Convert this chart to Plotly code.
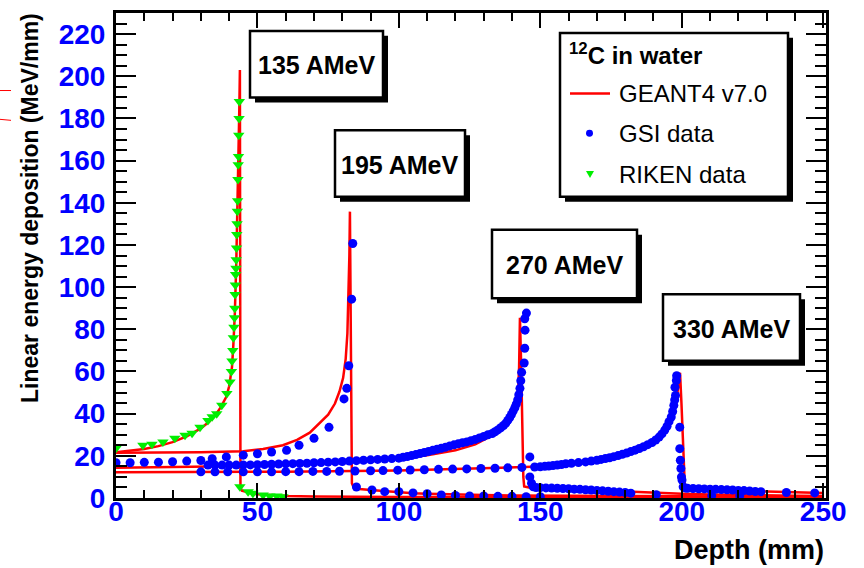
import plotly.graph_objects as go

# ---------------- data ----------------
# GEANT4 v7.0 simulated curves
g4_135_depth = [0, 5, 10, 15, 20, 25, 30, 33, 35, 37, 39, 40, 41, 41.5, 42, 42.5, 43, 43.3, 43.6, 43.8, 43.9, 44.0,
                44.5, 46, 48, 50, 55, 60, 70, 80, 100, 150, 200, 250]
g4_135_val = [21.7, 22.3, 23.2, 24.6, 26.5, 29.2, 33, 36.3, 39, 43, 48, 53, 62, 73, 87, 110, 138, 160, 185, 203, 120, 5,
              3.5, 2.8, 2.2, 1.8, 1.3, 1.0, 0.7, 0.6, 0.5, 0.4, 0.3, 0.3]

g4_195_depth = [0, 15, 30, 45, 52, 59, 64, 68.5, 72, 75, 77.4, 79, 80.3, 81.2, 81.8, 82.2, 82.5, 82.7, 83.0, 83.2, 83.4,
                84, 86, 90, 95, 100, 105, 110, 120, 130, 140, 150, 175, 200, 250]
g4_195_val = [21.4, 21.5, 21.7, 22.2, 23.2, 25, 27.6, 31, 35.5, 39.5, 44.8, 50.5, 57, 66, 78, 95, 115, 135.8, 80, 30, 7,
              5, 4.3, 3.8, 3.2, 2.7, 2.3, 2.0, 1.6, 1.4, 1.2, 1.1, 0.9, 0.8, 0.6]

g4_270_depth = [0, 20, 40, 60, 80, 100, 110, 120, 127, 132, 136, 138.5, 140, 141, 141.7, 142.2, 142.5, 142.7, 142.8,
                143.2, 143.6, 144.0, 144.3, 146, 150, 160, 170, 180, 190, 200, 210, 220, 230, 240, 250]
g4_270_val = [14.3, 14.6, 15.0, 15.8, 16.9, 18.6, 20.3, 22.6, 25.5, 29, 33, 36.5, 40, 43, 46, 52, 62, 75, 85.5,
              65, 35, 10, 5.5, 5.0, 4.7, 4.1, 3.5, 2.9, 2.4, 2.0, 1.7, 1.4, 1.2, 1.1, 1.0]

g4_330_depth = [0, 30, 60, 100, 130, 150, 161, 170, 179, 185, 189, 192, 194, 195.5, 196.8, 197.8, 198.5, 199, 199.4,
                199.9, 200.4, 200.8, 201.1, 202, 210, 220, 230, 240, 250]
g4_330_val = [12.2, 12.3, 12.5, 13.1, 14.0, 14.9, 16.3, 17.8, 20.8, 23.5, 26.2, 29, 32, 35.5, 40, 45, 50, 55, 59.4,
              45, 25, 10, 5.3, 4.8, 4.2, 3.6, 3.1, 2.7, 2.4]

# GSI data
gsi_195_depth = [0, 5, 10, 15, 20, 25, 30, 34, 39, 45, 50, 55, 60.3, 64.7, 70, 75.3, 80.6, 81.6, 82.3, 83.3, 83.7,
                 85, 90.5, 95, 100, 105, 110, 115, 120, 125, 130, 135, 140, 145, 150]
gsi_195_val = [16.7, 16.7, 16.9, 17.0, 17.2, 17.5, 17.8, 18.6, 19.5, 20.3, 21.0, 21.8, 22.6, 25, 28.3, 33.5, 47, 52,
               62.7, 94.3, 120.7, 5.2, 3.8, 3.0, 3.0, 2.4, 2.0, 1.4, 1.2, 1.0, 1.0, 0.8, 0.8, 0.6, 0.6]

gsi_270_depth = [32.5, 35, 37.5, 40, 42.5, 45, 47.5, 50, 52.5, 55, 57.5, 60, 62.5, 65, 67.5, 70, 72.5, 75, 77.5, 80,
                 82.5, 85, 87.5, 90, 92.5, 95, 97.5, 100, 101.5, 103, 104.5, 106, 107.5, 109, 110.5, 112, 113.5, 115,
                 116.5, 118, 119.5, 121, 122.5, 124, 125.5, 127, 128.5, 130, 131.5, 133, 134, 135, 136, 137, 137.8,
                 138.5, 139.2, 139.8, 140.4, 141, 141.5, 142, 142.4, 142.8, 143.1, 143.4, 144.3, 144.5, 144.6, 144.5,
                 145.1, 146.3, 146.3, 146.9, 147.5, 148.5, 150, 152, 154, 156, 158, 160, 162, 164, 166, 168, 170,
                 172, 174, 176, 178, 180, 182, 191, 210.6, 220.5]
gsi_270_val = [15.6, 15.6, 15.6, 15.6, 15.6, 15.7, 15.7, 15.8, 15.9, 16.0, 16.1, 16.2, 16.3, 16.4, 16.5, 16.7, 16.8,
               17.0, 17.1, 17.3, 17.5, 17.7, 17.9, 18.1, 18.3, 18.5, 18.7, 18.9, 19.3, 19.7, 20.1, 20.6, 21.1, 21.6,
               22.1, 22.6, 23.1, 23.6, 24.1, 24.7, 25.2, 25.7, 26.2, 26.6, 27.2, 27.8, 28.5, 29.2, 30.0, 30.6, 31.4,
               32.3, 33.3, 34.4, 35.5, 36.8, 38.2, 39.6, 41.2, 42.8, 44.5, 46.5, 49, 52, 55.6, 59.6, 64, 71, 79.6,
               85, 87.7, 19.5, 10, 7, 5.3, 5.0, 4.9, 4.8, 4.7, 4.6, 4.5, 4.4, 4.2, 4.1, 3.9, 3.8, 3.6, 3.4, 3.2,
               3.0, 2.8, 2.6, 2.3, 1.6, 1.1, 1.1]

gsi_330_depth = [30, 35, 39.5, 45, 50, 55, 60, 64.7, 69.6, 74.5, 79, 84.5, 90, 94.4, 99.6, 104, 109, 114, 119, 124,
                 129, 134, 138.5, 143.5, 148, 150, 151.6, 153, 154.5, 156, 157.5, 159, 161, 163.5, 166, 168, 170,
                 171.5, 173, 174.5, 176, 177.5, 179, 180.5, 182, 183.5, 185, 186.5, 188, 189.5, 190.8, 192, 193, 194,
                 194.8, 195.5, 196.3, 196.8, 197.2, 197.5, 197.8, 197.6, 198.1, 198.2, 199.3, 199.3, 199.5, 199.7,
                 199.9, 200.1, 200.5, 201.2, 202, 204, 206, 208, 210, 212, 214, 216, 218, 220, 222, 224, 226, 228,
                 237, 247]
gsi_330_val = [12.4, 12.4, 12.4, 12.4, 12.4, 12.4, 12.5, 12.5, 12.6, 12.6, 12.7, 12.8, 12.9, 13.0, 13.2, 13.3, 13.4,
               13.6, 13.7, 13.8, 14.0, 14.1, 14.3, 14.5, 14.7, 14.8, 15.0, 15.2, 15.4, 15.6, 15.9, 16.2, 16.5, 16.8,
               17.1, 17.5, 17.9, 18.3, 18.7, 19.1, 19.6, 20.1, 20.7, 21.3, 22.0, 22.7, 23.5, 24.3, 25.3, 26.3, 27.5,
               28.9, 30.4, 32.2, 34.0, 36.2, 38.4, 41, 43.9, 46.5, 48.6, 52.5, 55.7, 58, 33.6, 23.4, 17.9, 14, 10,
               8.5, 5.3, 4.8, 4.6, 4.5, 4.4, 4.3, 4.2, 4.1, 4.0, 3.9, 3.8, 3.6, 3.5, 3.3, 3.1, 3.0, 2.6, 2.4]

# RIKEN data
riken_135_depth = [0, 9.5, 12.7, 16.6, 20.8, 24.4, 26.9, 29.7, 32.5, 34, 35.6, 37.4, 39.2, 40.3, 40.8, 41.0, 41.3,
                   41.5, 41.7, 41.9, 42.0, 42.1, 42.2, 42.3, 42.4, 42.5, 42.6, 42.7, 42.8, 42.9, 43.0, 43.1, 43.2,
                   43.3, 43.4, 43.5, 43.6, 43.8, 46.7, 48.4, 52, 54.4, 56.9, 59]
riken_135_val = [23.6, 25, 25.5, 26.6, 28.3, 29.7, 30.7, 33.6, 36.8, 38.5, 40, 44, 49.5, 55, 60, 65, 70, 76, 81,
                 85.5, 90, 96.5, 101, 106, 109, 113, 118.5, 125, 130, 136, 141, 151, 158, 162, 172, 180, 188,
                 5.3, 3.0, 2.2, 1.4, 0.9, 0.9, 0.6]

energy_labels = ["135 AMeV", "195 AMeV", "270 AMeV", "330 AMeV"]
legend_title = "<sup>12</sup>C in water"
legend_names = ["GEANT4 v7.0", "GSI data", "RIKEN data"]

# ---------------- layout geometry ----------------
W, H = 864, 568
ML, MR, MT, MB = 116, 38, 10, 70
PW, PH = W - ML - MR, H - MT - MB
Y0 = H - MB


def px(x):
    return (x - ML) / PW


def py(y):
    return (Y0 - y) / PH


RED, BLUE, GREEN = "#ff0000", "#0000ff", "#00ee00"
FONT = "Liberation Sans, Arial, Helvetica, sans-serif"

fig = go.Figure()
for d, v, nm in [(g4_135_depth, g4_135_val, "GEANT4 135"), (g4_195_depth, g4_195_val, "GEANT4 195"),
                 (g4_270_depth, g4_270_val, "GEANT4 270"), (g4_330_depth, g4_330_val, "GEANT4 330")]:
    fig.add_trace(go.Scatter(x=d, y=v, mode="lines", name=nm, line=dict(color=RED, width=2.5), showlegend=False))
for d, v, nm in [(gsi_195_depth, gsi_195_val, "GSI 195"), (gsi_270_depth, gsi_270_val, "GSI 270"),
                 (gsi_330_depth, gsi_330_val, "GSI 330")]:
    fig.add_trace(go.Scatter(x=d, y=v, mode="markers", name=nm, showlegend=False,
                             marker=dict(color=BLUE, size=9, symbol="circle", line=dict(width=0))))
fig.add_trace(go.Scatter(x=riken_135_depth, y=riken_135_val, mode="markers", name="RIKEN 135", showlegend=False,
                         marker=dict(color=GREEN, size=10, symbol="triangle-down", line=dict(width=0))))

shapes = []
annotations = []


def pave(x0, y0, x1, y1, sh=5):
    shapes.append(dict(type="rect", xref="paper", yref="paper", x0=px(x0 + sh), x1=px(x1 + sh),
                       y0=py(y0 + sh), y1=py(y1 + sh), fillcolor="black", line=dict(width=0), layer="above"))
    shapes.append(dict(type="rect", xref="paper", yref="paper", x0=px(x0), x1=px(x1), y0=py(y0), y1=py(y1),
                       fillcolor="white", line=dict(color="black", width=2.5), layer="above"))


boxes = [(250, 28, 383, 95), (335, 128, 465, 195), (492, 228, 637, 297), (663, 293, 800, 360)]
for (x0, y0, x1, y1), lab in zip(boxes, energy_labels):
    pave(x0, y0, x1, y1)
    annotations.append(dict(xref="paper", yref="paper", x=px((x0 + x1) / 2), y=py((y0 + y1) / 2 + 1),
                            xanchor="center", yanchor="middle", showarrow=False, text="<b>%s</b>" % lab,
                            font=dict(family=FONT, size=25, color="black")))

# legend (TLegend-like pave)
pave(560, 30, 788, 195)
annotations.append(dict(xref="paper", yref="paper", x=px(567), y=py(51), xanchor="left", yanchor="middle",
                        showarrow=False, text="<b>%s</b>" % legend_title,
                        font=dict(family=FONT, size=24, color="black")))
entry_y = [91, 131, 172]
for yy, nm in zip(entry_y, legend_names):
    annotations.append(dict(xref="paper", yref="paper", x=px(617), y=py(yy), xanchor="left", yanchor="middle",
                            showarrow=False, text=nm, font=dict(family=FONT, size=24, color="black")))
shapes.append(dict(type="line", xref="paper", yref="paper", x0=px(570), x1=px(610), y0=py(entry_y[0]),
                   y1=py(entry_y[0]), line=dict(color=RED, width=2.5), layer="above"))
shapes.append(dict(type="circle", xref="paper", yref="paper", x0=px(586), x1=px(593), y0=py(entry_y[1] + 3.5),
                   y1=py(entry_y[1] - 3.5), fillcolor=BLUE, line=dict(width=0), layer="above"))
tx, ty = 590, entry_y[2]
shapes.append(dict(type="path", xref="paper", yref="paper",
                   path="M %f %f L %f %f L %f %f Z" % (px(tx - 4), py(ty - 3), px(tx + 4), py(ty - 3), px(tx), py(ty + 4)),
                   fillcolor=GREEN, line=dict(width=0), layer="above"))

# stray red marks at the left edge of the picture
shapes.append(dict(type="line", xref="paper", yref="paper", x0=px(0), x1=px(11), y0=py(88), y1=py(88),
                   line=dict(color=RED, width=1)))
shapes.append(dict(type="line", xref="paper", yref="paper", x0=px(0), x1=px(11), y0=py(117), y1=py(118),
                   line=dict(color=RED, width=1)))

# axis titles
annotations.append(dict(xref="paper", yref="paper", x=px(826), y=py(550), xanchor="right", yanchor="middle",
                        showarrow=False, text="<b>Depth (mm)</b>", font=dict(family=FONT, size=27, color="black")))
annotations.append(dict(xref="paper", yref="paper", x=px(30), y=py(8), xanchor="center", yanchor="top",
                        textangle=-90, showarrow=False, text="<b>Linear energy deposition (MeV/mm)</b>",
                        font=dict(family=FONT, size=23, color="black")))

tickfont = dict(family=FONT, size=28, color=BLUE, weight="bold")
fig.update_layout(
    width=W, height=H, margin=dict(l=ML, r=MR, t=MT, b=MB),
    paper_bgcolor="white", plot_bgcolor="white", showlegend=False,
    shapes=shapes, annotations=annotations,
    xaxis=dict(range=[0, 251], dtick=50, tick0=0, ticks="inside", ticklen=15, tickwidth=2, tickcolor="black",
               mirror="allticks", showline=True, linewidth=3, linecolor="black", showgrid=False, zeroline=False,
               tickfont=tickfont, ticklabelstandoff=-14,
               minor=dict(dtick=10, ticks="inside", ticklen=8, tickwidth=2, tickcolor="black", showgrid=False)),
    yaxis=dict(range=[0, 230], dtick=20, tick0=0, ticks="inside", ticklen=20, tickwidth=2, tickcolor="black",
               mirror="allticks", showline=True, linewidth=3, linecolor="black", showgrid=False, zeroline=False,
               tickfont=tickfont, ticklabelstandoff=2,
               minor=dict(dtick=5, ticks="inside", ticklen=11, tickwidth=2, tickcolor="black", showgrid=False)),
)

fig.write_html("out.html", config={"displayModeBar": False},
               post_script="document.body.style.margin='0px';document.documentElement.style.overflow='hidden';")
